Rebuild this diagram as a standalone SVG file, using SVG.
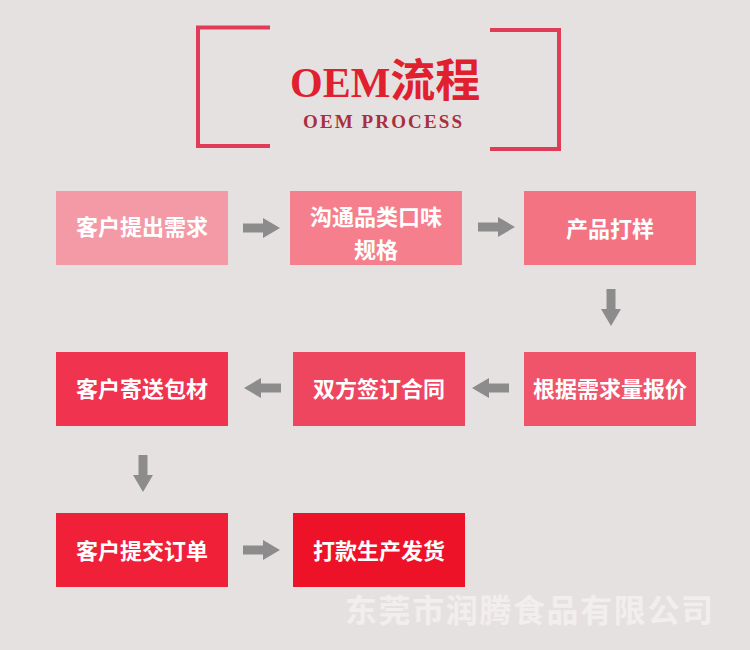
<svg xmlns="http://www.w3.org/2000/svg" width="750" height="650" viewBox="0 0 750 650">
<style>
.br{fill:none;stroke:#e03c58;stroke-width:4}
.lbl{font-family:"Noto Sans CJK SC",sans-serif;font-weight:bold;font-size:22px;fill:#ffffff;text-anchor:middle;dominant-baseline:central}
.ar{fill:#8d8c8c}
</style>
<defs>
<polygon id="arr" points="-37,-4.5 -17,-4.5 -17,-10 0,0 -17,10 -17,4.5 -37,4.5"/>
</defs>
<rect width="750" height="650" fill="#e6e1e1"/>
<g id="title">
<polyline class="br" points="270,27.5 198,27.5 198,146 270,146"/>
<polyline class="br" points="490,30 559,30 559,149 490,149"/>
<text x="290" y="97" font-family="'Liberation Serif','Noto Sans CJK SC',serif" font-weight="bold" font-size="42" fill="#e0202e">OEM<tspan font-family="'Noto Sans CJK SC',sans-serif" font-size="45">流程</tspan></text>
<text x="303" y="128" font-family="'Liberation Serif',serif" font-weight="bold" font-size="19" fill="#a8303e" textLength="159" lengthAdjust="spacing">OEM PROCESS</text>
</g>
<g id="n1"><rect x="56" y="191" width="172" height="74" fill="#f49aa6"/><text class="lbl" x="142" y="225">客户提出需求</text></g>
<g id="n2"><rect x="290" y="191" width="172" height="74" fill="#f57f8d"/><text class="lbl" x="376" y="215">沟通品类口味</text><text class="lbl" x="376" y="248">规格</text></g>
<g id="n3"><rect x="524" y="191" width="172" height="74" fill="#f47383"/><text class="lbl" x="610" y="227">产品打样</text></g>
<g id="n4"><rect x="524" y="352" width="172" height="74" fill="#f0546a"/><text class="lbl" x="610" y="387">根据需求量报价</text></g>
<g id="n5"><rect x="293" y="352" width="172" height="74" fill="#ee465e"/><text class="lbl" x="379" y="387">双方签订合同</text></g>
<g id="n6"><rect x="56" y="352" width="172" height="74" fill="#f0334e"/><text class="lbl" x="142" y="387">客户寄送包材</text></g>
<g id="n7"><rect x="56" y="513" width="172" height="74" fill="#ef2038"/><text class="lbl" x="142" y="549">客户提交订单</text></g>
<g id="n8"><rect x="293" y="513" width="172" height="74" fill="#ee1229"/><text class="lbl" x="379" y="549">打款生产发货</text></g>
<g id="connectors" class="ar">
<use href="#arr" transform="translate(280,228)"/>
<use href="#arr" transform="translate(515,227)"/>
<use href="#arr" transform="translate(611,326) rotate(90)"/>
<use href="#arr" transform="translate(472,388) rotate(180)"/>
<use href="#arr" transform="translate(244,388) rotate(180)"/>
<use href="#arr" transform="translate(143,492) rotate(90)"/>
<use href="#arr" transform="translate(280,550)"/>
</g>
<text x="529" y="608" font-family="'Noto Sans CJK SC',sans-serif" font-weight="bold" font-size="32" fill="#f2eeee" text-anchor="middle" dominant-baseline="central" textLength="368" lengthAdjust="spacing">东莞市润腾食品有限公司</text>
</svg>
